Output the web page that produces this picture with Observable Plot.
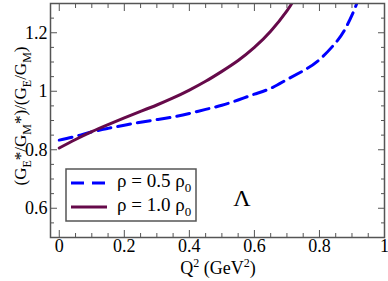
<!DOCTYPE html>
<html><head><meta charset="utf-8">
<script src="https://cdn.jsdelivr.net/npm/d3@7"></script>
<script src="https://cdn.jsdelivr.net/npm/@observablehq/plot@0.6"></script>
<style>body{margin:0;background:#fff} #chart{width:388px;height:281px}</style>
</head><body><div id="chart"></div>
<script>
// Series: rho = 0.5 rho0 (blue dashed)
const q2Half    = [0, 0.05, 0.1, 0.15, 0.2, 0.25, 0.3, 0.35, 0.4, 0.45, 0.5, 0.55, 0.6, 0.65, 0.7, 0.75, 0.8, 0.85, 0.875, 0.9, 0.925];
const ratioHalf = [0.833, 0.846, 0.861, 0.873, 0.884, 0.894, 0.903, 0.912, 0.924, 0.938, 0.952, 0.970, 0.990, 1.010, 1.040, 1.070, 1.108, 1.166, 1.205, 1.26, 1.33];
// Series: rho = 1.0 rho0 (purple solid)
const q2Full    = [0, 0.05, 0.1, 0.15, 0.2, 0.25, 0.3, 0.35, 0.4, 0.45, 0.5, 0.55, 0.6, 0.65, 0.7, 0.72];
const ratioFull = [0.806, 0.835, 0.862, 0.886, 0.909, 0.931, 0.953, 0.977, 1.004, 1.034, 1.068, 1.105, 1.150, 1.205, 1.275, 1.31];
// Ticks
const xMajor = [0, 0.2, 0.4, 0.6, 0.8, 1];
const xMinor = [0.05, 0.1, 0.15, 0.25, 0.3, 0.35, 0.45, 0.5, 0.55, 0.65, 0.7, 0.75, 0.85, 0.9, 0.95];
const yMajor = [0.6, 0.8, 1, 1.2];
const yMinor = [0.55, 0.65, 0.7, 0.75, 0.85, 0.9, 0.95, 1.05, 1.1, 1.15, 1.25];
const seriesLabels = ["0.5", "1.0"];

const half = q2Half.map((x, i) => ({x, y: ratioHalf[i]}));
const full = q2Full.map((x, i) => ({x, y: ratioFull[i]}));
const blue = "#0000ff", purple = "#660a4a", frameColor = "#555";
const font = "Liberation Serif, Tinos, Times New Roman, Times, DejaVu Serif, serif";

const fmt = d => String(d);
const blank = () => "";
const chart = Plot.plot({
  width: 388, height: 281,
  marginLeft: 50, marginRight: 4, marginTop: 3, marginBottom: 44,
  x: {domain: [-0.027, 1]},
  y: {domain: [0.5, 1.3]},
  style: {fontFamily: font, fontSize: "18px", background: "white", color: "black"},
  marks: [
    Plot.line(half, {x: "x", y: "y", stroke: blue, strokeWidth: 3, strokeDasharray: "13,7", curve: "natural", clip: true}),
    Plot.line(full, {x: "x", y: "y", stroke: purple, strokeWidth: 3, curve: "natural", clip: true}),
    Plot.axisX({anchor: "bottom", ticks: xMajor, tickSize: -7, tickPadding: 9, tickFormat: fmt, stroke: frameColor, label: null}),
    Plot.axisX({anchor: "bottom", ticks: xMinor, tickSize: -4, tickFormat: blank, stroke: frameColor, label: null}),
    Plot.axisX({anchor: "top", ticks: xMajor, tickSize: -7, tickFormat: blank, stroke: frameColor, label: null}),
    Plot.axisX({anchor: "top", ticks: xMinor, tickSize: -4, tickFormat: blank, stroke: frameColor, label: null}),
    Plot.axisY({anchor: "left", ticks: yMajor, tickSize: -7, tickPadding: 10, tickFormat: fmt, stroke: frameColor, label: null}),
    Plot.axisY({anchor: "left", ticks: yMinor, tickSize: -4, tickFormat: blank, stroke: frameColor, label: null}),
    Plot.axisY({anchor: "right", ticks: yMajor, tickSize: -7, tickFormat: blank, stroke: frameColor, label: null}),
    Plot.axisY({anchor: "right", ticks: yMinor, tickSize: -4, tickFormat: blank, stroke: frameColor, label: null}),
    Plot.frame({stroke: frameColor, strokeWidth: 1.5})
  ]
});
document.getElementById("chart").appendChild(chart);

const svg = d3.select(chart);
function txt(sel) {
  return sel.append("text").attr("font-family", font).style("font-family", font).attr("fill", "black");
}

// y-axis label
const yl = txt(svg)
  .attr("transform", "translate(26,116) rotate(-90)")
  .attr("text-anchor", "middle").style("text-anchor", "middle")
  .style("font-size", "17px");
const ylParts = [["(G", 0], ["E", 1], ["*/G", 0], ["M", 1], ["*)/(G", 0], ["E", 1], ["/G", 0], ["M", 1], [")", 0]];
let prev = 0;
for (const [t, sub] of ylParts) {
  const shift = sub ? 4.5 : 0;
  yl.append("tspan").attr("dy", shift - prev).style("font-size", sub ? "12px" : "17px").text(t);
  prev = shift;
}

// x-axis label
const xl = txt(svg)
  .attr("x", 218).attr("y", 274).attr("text-anchor", "middle").style("text-anchor", "middle")
  .style("font-size", "18px");
xl.append("tspan").text("Q");
xl.append("tspan").attr("dy", -7).style("font-size", "12px").text("2");
xl.append("tspan").attr("dy", 7).text(" (GeV");
xl.append("tspan").attr("dy", -7).style("font-size", "12px").text("2");
xl.append("tspan").attr("dy", 7).text(")");

// Lambda
txt(svg).attr("x", 242).attr("y", 206).attr("text-anchor", "middle").style("text-anchor", "middle")
  .style("font-size", "24px").text("Λ");

// Legend
const lg = svg.append("g");
lg.append("rect").attr("x", 66).attr("y", 169).attr("width", 130).attr("height", 52)
  .attr("fill", "white").attr("stroke", frameColor).attr("stroke-width", 1.5);
const rows = [{c: blue, dash: "13,8", y: 183, t: seriesLabels[0]}, {c: purple, dash: null, y: 207, t: seriesLabels[1]}];
for (const r of rows) {
  lg.append("line").attr("x1", 71).attr("x2", 107).attr("y1", r.y).attr("y2", r.y)
    .attr("stroke", r.c).attr("stroke-width", 3).attr("stroke-dasharray", r.dash);
  const tx = txt(lg).attr("x", 117).attr("y", r.y + 4)
    .attr("text-anchor", "start").style("text-anchor", "start").style("font-size", "19px");
  tx.append("tspan").text(`ρ = ${r.t} ρ`);
  tx.append("tspan").attr("dy", 5).style("font-size", "13px").text("0");
}
</script>
</body></html>
